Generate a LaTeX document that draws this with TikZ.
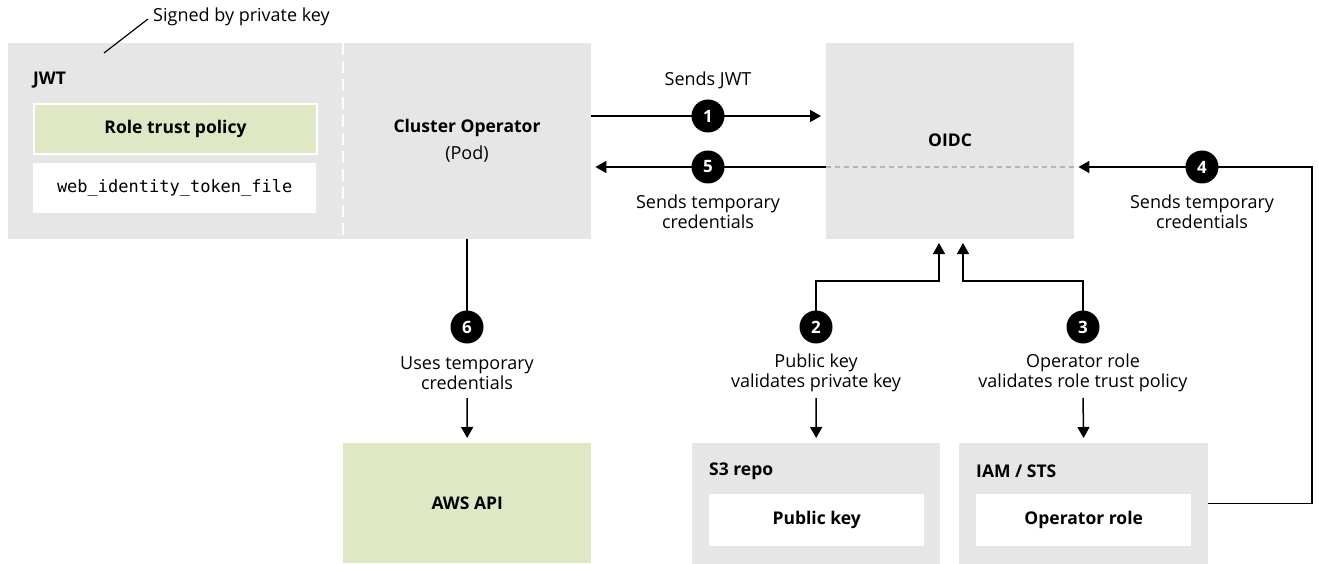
\documentclass[tikz,border=0pt]{standalone}
\usepackage{fontspec}
\setmainfont{Open Sans}
\setmonofont{DejaVu Sans Mono}
\usetikzlibrary{arrows.meta}
\definecolor{boxgray}{HTML}{E6E6E6}
\definecolor{boxgreen}{HTML}{DFE8C4}
\definecolor{dashgray}{HTML}{B4B4B4}
\begin{document}
\begin{tikzpicture}[x=1pt,y=-1pt,
  box/.style={fill=boxgray, draw=none, inner sep=0pt, anchor=north west},
  lbl/.style={font=\fontsize{18}{20}\selectfont, align=center, inner sep=0pt},
  bld/.style={font=\bfseries\fontsize{17.5}{20}\selectfont, align=center, inner sep=0pt},
  num/.style={circle, fill=black, text=white, font=\bfseries\fontsize{17}{17}\selectfont, minimum size=33pt, inner sep=0pt},
  conn/.style={line width=1.5pt},
  arr/.style={conn, -{Triangle[length=11pt,width=12pt]}}]
\useasboundingbox (0,0) rectangle (1319,564);
% boxes
\node[box, minimum width=583pt, minimum height=196pt] (cbox) at (8,43) {};
\node[box, minimum width=248pt, minimum height=196pt] (oidc) at (826,43) {};
\node[box, fill=boxgreen, minimum width=248pt, minimum height=120pt] (aws) at (343,443) {};
\node[box, minimum width=248pt, minimum height=121pt] (s3) at (692,443) {};
\node[box, minimum width=249pt, minimum height=121pt] (iam) at (959,443) {};
\node[box, fill=boxgreen, draw=white, line width=2pt, minimum width=283pt, minimum height=50pt] (rtp) at (33,103) {};
\node[box, fill=white, minimum width=283pt, minimum height=50pt] (wit) at (33,163) {};
\node[box, fill=white, minimum width=215pt, minimum height=52pt] (pk) at (709,494) {};
\node[box, fill=white, minimum width=215pt, minimum height=52pt] (orole) at (976,494) {};
\draw[white, line width=2.5pt, dash pattern=on 12pt off 6pt] (343,43) -- (343,239);
% texts
\node[bld, anchor=west] (jwt) at (33,80) {JWT};
\node[bld] (rtpt) at (rtp.center) {Role trust policy};
\node[inner sep=0pt, font=\ttfamily\fontsize{17}{20}\selectfont] (witt) at (wit.center) {web\_identity\_token\_file};
\node[bld] (cop) at (467,128) {Cluster Operator};
\node[lbl] (pod) at (467,154) {(Pod)};
\node[bld] (oidct) at (950,140) {OIDC};
\node[bld] (awst) at (aws.center) {AWS API};
\node[bld, anchor=west] (s3t) at (709,471) {S3 repo};
\node[bld] (pkt) at (pk.center) {Public key};
\node[bld, anchor=west] (iamt) at (976,471) {IAM / STS};
\node[bld] (orolet) at (orole.center) {Operator role};
\node[lbl, anchor=west] (sig) at (153,17) {Signed by private key};
\draw[line width=1.2pt] (104,53) -- ([xshift=-5pt,yshift=-2pt]sig.west);
% step circles positions
\coordinate (p1) at (708,116);
\coordinate (p5) at (708,167);
\coordinate (p4) at (1202,167);
\coordinate (p6) at (467,327);
\coordinate (p2) at (816,327);
\coordinate (p3) at (1083,327);
\coordinate (t2) at (939,239);
\coordinate (t3) at (963,239);
\coordinate (turn4) at (1312,167);
% connectors
\draw[arr, shorten >=5pt] (cbox.east |- p1) -- (oidc.west |- p1);
\draw[arr, shorten >=4pt] (oidc.west |- p5) -- (cbox.east |- p5);
\draw[dashgray, line width=1.2pt, dash pattern=on 5pt off 4pt] (oidc.west |- p5) -- (oidc.east |- p5);
\draw[arr, shorten >=4pt] (iam.east) -| (turn4) -- (oidc.east |- p4);
\draw[conn] (p6 |- cbox.south) -- (p6);
\draw[arr, shorten >=4pt] (p2) -- (816,281) -| (t2);
\draw[arr, shorten >=4pt] (p3) -- (1083,281) -| (t3);
\node[num] (c1) at (p1) {1};
\node[num] (c5) at (p5) {5};
\node[num] (c4) at (p4) {4};
\node[num] (c6) at (p6) {6};
\node[num] (c2) at (p2) {2};
\node[num] (c3) at (p3) {3};
% labels
\node[lbl] (l1) at (708,80) {Sends JWT};
\node[lbl] (l5) at (708,212) {Sends temporary\\credentials};
\node[lbl] (l4) at (1202,212) {Sends temporary\\credentials};
\node[lbl] (l6) at (467,373) {Uses temporary\\credentials};
\node[lbl] (l2) at (816,373) {Public key\\validates private key};
\node[lbl] (l3) at (1083,373) {Operator role\\validates role trust policy};
\coordinate (d6) at (467,398);
\coordinate (d2) at (816,398);
\coordinate (d3) at (1083,398);
\draw[arr, shorten >=5pt] (d6) -- (aws.north);
\draw[arr, shorten >=5pt] (d2) -- (s3.north);
\draw[arr, shorten >=5pt] (d3) -- (iam.north);
\end{tikzpicture}
\end{document}
